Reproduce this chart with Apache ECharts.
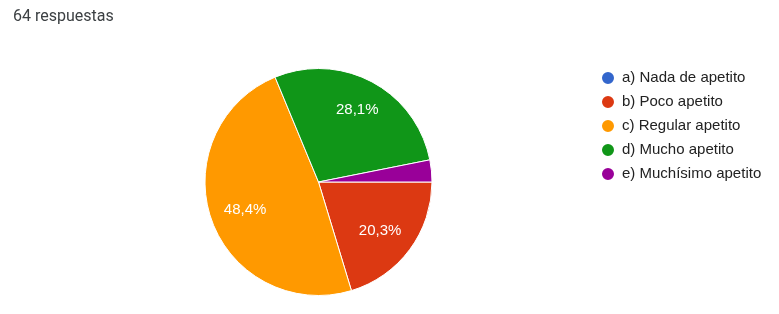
<!DOCTYPE html>
<html><head><meta charset="utf-8">
<script src="https://cdn.jsdelivr.net/npm/echarts@6/dist/echarts.min.js"></script>
<style>html,body{margin:0;padding:0;background:#fff}#c{width:779px;height:314px}</style>
</head><body><div id="c"></div>
<script>
var categories = ['a) Nada de apetito','b) Poco apetito','c) Regular apetito','d) Mucho apetito','e) Muchísimo apetito'];
var values = [0, 13, 31, 18, 2];
var colors = ['#3366cc','#dc3912','#ff9900','#109618','#990099'];
var title = '64 respuestas';

var total = values.reduce(function(a,b){return a+b;},0);
var data = categories.map(function(n,i){return {name:n, value:values[i], itemStyle:{color:colors[i]}};});
var fmt = function(p){
  var pc = p.value / total * 100;
  return pc < 5 ? '' : pc.toFixed(1).replace('.',',') + '%';
};
var chart = echarts.init(document.getElementById('c'), null, {renderer:'canvas'});
chart.setOption({
  animation:false,
  title:{text:title,left:13,top:9,padding:0,textStyle:{fontFamily:'Roboto, Arial',fontSize:16,fontWeight:'normal',color:'#3c4043'}},
  legend:{orient:'vertical',left:600,top:70,padding:0,itemWidth:14,itemHeight:14,itemGap:8,icon:'circle',
    textStyle:{fontFamily:'Liberation Sans, Arial',fontSize:15,lineHeight:16,color:'#222',padding:[0,0,0,2]},data:categories},
  series:[
    {type:'pie',center:[318.5,182],radius:[0,113.5],startAngle:0,clockwise:true,
     stillShowZeroSum:true,
     itemStyle:{borderColor:'#fff',borderWidth:1},
     label:{show:false},labelLine:{show:false},emphasis:{disabled:true},data:data},
    {type:'pie',center:[318.5,182],radius:[45,113.5],startAngle:0,clockwise:true,silent:true,
     legendHoverLink:false,
     itemStyle:{color:'transparent',borderWidth:0},
     label:{show:true,position:'inside',formatter:fmt,color:'#fff',fontFamily:'Liberation Sans, Arial',fontSize:15},
     labelLine:{show:false},emphasis:{disabled:true},
     data:categories.map(function(n,i){return {name:n,value:values[i],
       label: i===2 ? {padding:[0,0,0,8]} : (i===1 ? {padding:[0,9,0,0]} : undefined)};})}
  ]
});
</script></body></html>
